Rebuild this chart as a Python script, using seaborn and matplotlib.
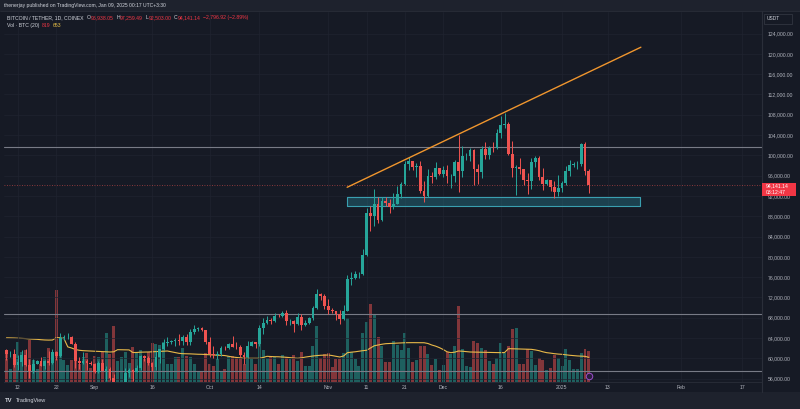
import matplotlib
matplotlib.use("Agg")
import matplotlib.pyplot as plt
import pandas as pd
import seaborn as sns
from matplotlib.patches import Rectangle
from matplotlib.lines import Line2D
from matplotlib.transforms import blended_transform_factory

# ---------------------------------------------------------------------------
# Daily BTC/USDT candles (COINEX), 2024-08-09 .. 2025-01-08
# ---------------------------------------------------------------------------
first_day = "2024-08-09"

opens = [
    # Aug 9-31
    61710, 60880, 60945, 58715, 59355, 60610, 58740, 57560, 58875, 59490, 58430, 59440,
    59010, 61160, 60380, 64040, 64160, 64220, 62830, 59420, 59030, 59370, 59120,
    # Sep
    58970, 57300, 59130, 57490, 57970, 56160, 53950, 54160, 54880, 57050, 57650, 57340,
    58130, 60500, 59990, 59130, 58210, 60310, 61760, 62950, 63200, 63350, 63580, 63340,
    64260, 63140, 65180, 65790, 65890, 65600,
    # Oct
    63300, 60800, 60650, 60750, 62080, 62060, 62820, 62220, 62130, 60580, 60270, 62450,
    63190, 62850, 66050, 67040, 67610, 67400, 68420, 68360, 69000, 67370, 67380, 66680,
    68200, 66640, 67010, 67930, 69910, 72720, 72340,
    # Nov
    70220, 69500, 69370, 68780, 67810, 69360, 75640, 75900, 76540, 76680, 80370, 88650,
    87950, 90375, 87325, 91030, 90590, 89850, 90460, 92310, 94290, 98350, 98890, 97670,
    97900, 93010, 91960, 95860, 95640, 97460,
    # Dec
    96410, 97190, 95840, 96000, 98770, 96970, 99870, 99920, 101120, 97340, 96680, 101170,
    100040, 101420, 101370, 104300, 106060, 106130, 100200, 97460, 97760, 97220, 95190,
    94880, 98680, 99430, 95790, 94300, 95200, 93700, 92790,
    # Jan
    93580, 94590, 96890, 98140, 98230, 98360, 102240, 96938.05,
]
highs = [
    61750, 61470, 61860, 60680, 61580, 61800, 59850, 59850, 59700, 60280, 59620, 61400,
    61830, 61420, 64950, 64500, 65000, 64480, 63210, 60230, 61180, 59950, 59450,
    59060, 59430, 59810, 58520, 58330, 56990, 54850, 55300, 58090, 58040, 57990, 58590,
    60670, 60640, 60380, 59210, 61380, 61790, 63870, 64130, 63560, 64000, 64750, 64690,
    64820, 65840, 66500, 66260, 66080, 65620,
    64130, 62390, 61470, 62480, 62370, 62970, 64480, 63200, 62540, 61320, 63420, 63480,
    63280, 66500, 67950, 68420, 67940, 68970, 68690, 69400, 69500, 67830, 67470, 68840,
    68750, 67450, 68220, 70270, 73620, 72960, 72700,
    71630, 69940, 69390, 69490, 70580, 76500, 76960, 77250, 76950, 81500, 89530, 89950,
    93265, 91790, 91850, 91780, 91450, 92590, 94000, 94830, 98970, 99590, 98910, 98560,
    98870, 94970, 97400, 96650, 98690, 97460,
    97840, 98150, 96300, 99000, 104090, 101900, 100550, 101400, 101200, 98270, 101900,
    102540, 101900, 102650, 105250, 107780, 108350, 106530, 102800, 98150, 99540, 97400,
    96420, 99400, 99960, 99960, 97540, 95300, 95200, 94900, 96150,
    95000, 97840, 98980, 98730, 98800, 102480, 102720, 97259.49,
]
lows = [
    59580, 60270, 58300, 57640, 58400, 58460, 56080, 57100, 58790, 58420, 57860, 58590,
    58780, 59720, 60350, 63560, 63770, 62800, 58030, 57860, 58790, 57700, 58740,
    57200, 57130, 57420, 55600, 55640, 52550, 53740, 53650, 54600, 56410, 55550, 57320,
    57630, 59450, 58700, 57490, 57620, 59170, 61570, 62350, 62750, 62380, 62580, 62700,
    62700, 62670, 64810, 65420, 65420, 62860,
    60160, 59980, 59830, 60460, 61680, 61870, 62130, 61860, 60300, 58900, 60080, 62440,
    62000, 62420, 64800, 66750, 66680, 67160, 68050, 68100, 66520, 66570, 65260, 66570,
    65520, 66440, 66780, 67600, 69760, 71440, 69690,
    68820, 69000, 67460, 66840, 67450, 69320, 74460, 75580, 75750, 76490, 80220, 85070,
    86130, 86670, 87080, 90060, 88720, 89380, 90390, 91500, 94100, 97120, 97130, 95730,
    92600, 90790, 91820, 94610, 95380, 96160,
    95690, 94500, 93580, 94660, 92800, 95700, 99000, 98800, 94150, 94260, 95520, 99310,
    99200, 100610, 101220, 103340, 105320, 100000, 95670, 92130, 96400, 94200, 92400,
    93400, 97600, 95140, 93260, 94110, 92880, 91530, 92000,
    92750, 94200, 96000, 97780, 97250, 97910, 96180, 92503.00,
]
closes = [
    60880, 60945, 58715, 59355, 60610, 58740, 57560, 58875, 59490, 58430, 59440, 59010,
    61160, 60380, 64040, 64160, 64220, 62830, 59420, 59030, 59370, 59120, 58970,
    57300, 59130, 57490, 57970, 56160, 53950, 54160, 54880, 57050, 57650, 57340, 58130,
    60500, 59990, 59130, 58210, 60310, 61760, 62950, 63200, 63350, 63580, 63340, 64260,
    63140, 65180, 65790, 65890, 65600, 63300,
    60800, 60650, 60750, 62080, 62060, 62820, 62220, 62130, 60580, 60270, 62450, 63190,
    62850, 66050, 67040, 67610, 67400, 68420, 68360, 69000, 67370, 67380, 66680, 68200,
    66640, 67010, 67930, 69910, 72720, 72340, 70220,
    69500, 69370, 68780, 67810, 69360, 75640, 75900, 76540, 76680, 80370, 88650, 87950,
    90375, 87325, 91030, 90590, 89850, 90460, 92310, 94290, 98350, 98890, 97670, 97900,
    93010, 91960, 95860, 95640, 97460, 96410,
    97190, 95840, 96000, 98770, 96970, 99870, 99920, 101120, 97340, 96680, 101170,
    100040, 101420, 101370, 104300, 106060, 106130, 100200, 97460, 97760, 97220, 95190,
    94880, 98680, 99430, 95790, 94300, 95200, 93700, 92790, 93580,
    94590, 96890, 98140, 98230, 98360, 102240, 96950, 94141.14,
]

volumes = [
    803, 340, 660, 1070, 800, 840, 1110, 590, 350, 470, 660, 890, 800, 2440, 1100, 575,
    440, 575, 980, 470, 660, 775, 370, 690, 660, 800, 1310, 730, 1480, 560, 660, 800,
    510, 930, 800, 840, 600, 800,
    1040, 1010, 980, 1060, 470, 470, 660, 660, 900, 700, 660, 470, 300, 270, 775, 470,
    420, 600, 270, 340, 690, 690, 650, 660, 470, 800, 600, 470, 1060, 860, 630, 650,
    660, 470, 720, 650, 600, 720, 560,
    800, 420, 420, 960, 1480, 640, 730, 760, 410, 620, 600, 780, 1700, 800, 600, 430,
    1290, 1580, 2060, 1810, 1180, 960, 540, 540, 1080, 980, 850, 1310, 900, 520, 580,
    960, 960, 730, 450, 600, 330, 450, 800,
    730, 960, 2010, 870, 430, 400, 1080, 1040, 890, 840, 560, 470, 630, 1020, 780, 960,
    1400, 1440, 490, 490, 870, 830, 450, 630, 580, 310, 380, 710, 630, 430, 870, 580,
    350, 350, 780, 880, 819,
]
volume_ma = [
    1170, 1168, 1165, 1160, 1155, 1150, 1140, 1135, 1130, 1120,
    1113, 1110, 1112, 1175, 1172, 1150, 930, 900, 860, 840,
    830, 825, 820, 815, 810, 805, 800, 795, 800, 856,
    855, 852, 850, 780, 782, 790, 792, 795,
    800, 805, 810, 815, 821, 800, 780, 760, 750, 748,
    745, 740, 735, 733, 728, 722, 715, 710, 707, 700,
    680, 662, 650, 640, 628, 628, 628, 628, 628, 650,
    680, 675, 670, 668, 662, 655, 645, 635, 628,
    640, 660, 675, 689, 700, 708, 712, 715, 700, 680, 662,
    690, 777, 790, 800, 815, 830, 840, 900, 960, 980,
    1000, 1015, 1020, 1025, 1030, 1035, 1040, 1042, 1042, 1042,
    1042, 1040, 1020, 980, 950, 910, 860, 800,
    777, 790, 821, 815, 805, 795, 792, 790, 788, 786,
    784, 782, 780, 777, 780, 883, 880, 878, 875, 872,
    868, 865, 850, 830, 800, 777, 765, 750, 740, 733,
    720, 708, 698, 690, 684, 680, 653,
]

# drawings
level_prices = [101600, 68700, 57400]
trend_dates = ["2024-11-05 22:00", "2025-01-21 14:00"]
trend_prices = [93700, 121300]
zone_dates = ["2024-11-06 00:00", "2025-01-21 06:00"]
zone_prices = [90000, 91700]
last_price = 94141.14

tick_dates = ["2024-08-12", "2024-08-22", "2024-09-01", "2024-09-16", "2024-10-01",
              "2024-10-14", "2024-11-01", "2024-11-11", "2024-11-21", "2024-12-01",
              "2024-12-16", "2025-01-01", "2025-01-13", "2025-02-01", "2025-02-17"]
tick_labels = ["12", "22", "Sep", "16", "Oct", "14", "Nov", "11", "21", "Dec",
               "16", "2025", "13", "Feb", "17"]
price_ticks = list(range(56000, 124001, 4000))

# ---------------------------------------------------------------------------
BG = "#161a25"
PAGE = "#1e222d"
UP = "#26a69a"
DOWN = "#ef5350"
TXT = "#b2b5be"
LIGHT = "#d1d4dc"
W, H = 800, 409

sns.set_theme(style="dark", rc={"axes.facecolor": BG, "figure.facecolor": PAGE,
                                "axes.edgecolor": "#2a2e39", "text.color": LIGHT})
plt.rcParams["font.family"] = ["Liberation Sans", "DejaVu Sans"]

df = pd.DataFrame({"date": pd.date_range(first_day, periods=len(closes), freq="D"),
                   "open": opens, "high": highs, "low": lows, "close": closes,
                   "volume": volumes, "vol_ma": volume_ma})
df["up"] = df["close"] >= df["open"]

fig = plt.figure(figsize=(W / 100, H / 100), dpi=100)
# chart widget background (page strip above and below is lighter)
fig.patches.append(Rectangle((0, (H - 392) / H), 1, (392 - 11) / H, transform=fig.transFigure,
                             facecolor=BG, edgecolor="none", zorder=-10))
fig.lines.append(Line2D([0, 1], [(H - 11) / H] * 2, transform=fig.transFigure, color="#2a2e39", lw=0.6))
fig.lines.append(Line2D([762 / W] * 2, [(H - 392) / H, (H - 11) / H], transform=fig.transFigure,
                        color="#2a2e39", lw=0.8))

ax = fig.add_axes([4 / W, (H - 382) / H, 758 / W, 370 / H])
axv = ax.twinx()
ax.set_zorder(2)
axv.set_zorder(1)
ax.patch.set_visible(False)
axv.patch.set_visible(False)

# volume pane
vol_colors = [(0.149, 0.651, 0.604, 0.5) if u else (0.937, 0.325, 0.314, 0.5) for u in df["up"]]
axv.bar(df["date"], df["volume"], width=0.78, color=vol_colors, linewidth=0)
sns.lineplot(data=df, x="date", y="vol_ma", ax=axv, color="#e9b949", lw=0.8)
axv.set_ylim(0, 9800)
axv.set_yticks([])
axv.set_ylabel("")
for s in axv.spines.values():
    s.set_visible(False)

# candles
cols = [UP if u else DOWN for u in df["up"]]
ax.vlines(df["date"], df["low"], df["high"], colors=cols, lw=0.7, zorder=3)
body_low = df[["open", "close"]].min(axis=1)
body_h = (df["close"] - df["open"]).abs().clip(lower=60)
ax.bar(df["date"], body_h, bottom=body_low, width=0.72, color=cols, linewidth=0, zorder=4)

# levels, trend line and zone
for p in level_prices:
    ax.axhline(p, color="#787b86", lw=0.8, zorder=2)
ax.axhline(last_price, color=DOWN, lw=0.6, ls=(0, (1, 2)), alpha=0.7, zorder=2)
td = pd.to_datetime(trend_dates)
ax.plot(td, trend_prices, color="#f0962e", lw=1.0, zorder=5)
zd = pd.to_datetime(zone_dates)
ax.fill_between(zd, zone_prices[0], zone_prices[1], facecolor=(0.16, 0.55, 0.62, 0.35),
                edgecolor="#3a9fb0", lw=0.8, zorder=2)

# axes
ax.set_xlim(pd.Timestamp(first_day) - pd.Timedelta(days=0.65),
            pd.Timestamp(first_day) + pd.Timedelta(days=197.2))
ax.set_ylim(55330, 128240)
ax.set_xticks(pd.to_datetime(tick_dates))
ax.set_xticklabels(tick_labels)
ax.set_yticks(price_ticks)
ax.set_yticklabels([f"{p:,.2f}" for p in price_ticks])
ax.yaxis.tick_right()
ax.tick_params(axis="y", length=0, pad=4, labelsize=3.7, labelcolor=TXT)
ax.tick_params(axis="x", length=0, pad=2, labelsize=3.7, labelcolor=TXT)
ax.grid(True, color="#1f2330", lw=0.5)
ax.set_xlabel("")
ax.set_ylabel("")
for side in ["left", "top", "right"]:
    ax.spines[side].set_visible(False)
ax.spines["bottom"].set_color("#2a2e39")
ax.spines["bottom"].set_linewidth(0.6)

# event marker on last bar
trans = blended_transform_factory(ax.transData, ax.transAxes)
ax.scatter([df["date"].iloc[-1]], [0.016], transform=trans, s=22, facecolor="#2b1f3f",
           edgecolor="#9c4dcc", lw=0.7, zorder=6, clip_on=False)

# right-hand price tag and currency box
fig.patches.append(Rectangle((762 / W, (H - 196) / H), 34 / W, 13 / H, transform=fig.transFigure,
                             facecolor="#f23645", edgecolor="none", zorder=5))
fig.text(766 / W, 1 - 186 / H, "94,141.14", color="white", fontsize=3.7, va="center", zorder=6)
fig.text(766 / W, 1 - 192.5 / H, "03:12:47", color="white", fontsize=3.7, va="center", zorder=6)
fig.patches.append(Rectangle((764 / W, (H - 24) / H), 28 / W, 10 / H, transform=fig.transFigure,
                             facecolor=BG, edgecolor="#363a45", lw=0.5, zorder=5))
fig.text(767 / W, 1 - 19 / H, "USDT", color=LIGHT, fontsize=3.5, va="center", zorder=6)

# header and legend text
fig.text(4 / W, 1 - 5.7 / H, "thenerjay published on TradingView.com, Jan 09, 2025 00:17 UTC+3:30",
         color=LIGHT, fontsize=3.6, va="center")

renderer = fig.canvas.get_renderer()


def chain(pieces, x0, y0, size):
    x = x0
    for txt, col, gap in pieces:
        t = fig.text(x / W, 1 - y0 / H, txt, color=col, fontsize=size, va="center", zorder=6)
        x += t.get_window_extent(renderer=renderer).width + gap


RED = "#f23645"
chain([("BITCOIN / TETHER, 1D, COINEX", LIGHT, 3), ("O", LIGHT, 0.3), ("96,938.05", RED, 2.5),
       ("H", LIGHT, 0.3), ("97,259.49", RED, 2.5), ("L", LIGHT, 0.3), ("92,503.00", RED, 2.5),
       ("C", LIGHT, 0.3), ("94,141.14", RED, 2.5), ("\u22122,796.92 (\u22122.89%)", RED, 0)],
      7, 17.5, 3.7)
chain([("Vol \u00b7 BTC (20)", LIGHT, 2.5), ("819", RED, 2.5), ("653", "#e9c046", 0)], 7, 25.5, 3.7)

fig.text(5 / W, 1 - 400.5 / H, "TV", color=LIGHT, fontsize=4.2, fontweight="bold", va="center")
fig.text(16 / W, 1 - 400.5 / H, "TradingView", color=LIGHT, fontsize=4.0, va="center")

fig.savefig("out.png", dpi=100, facecolor=PAGE)
